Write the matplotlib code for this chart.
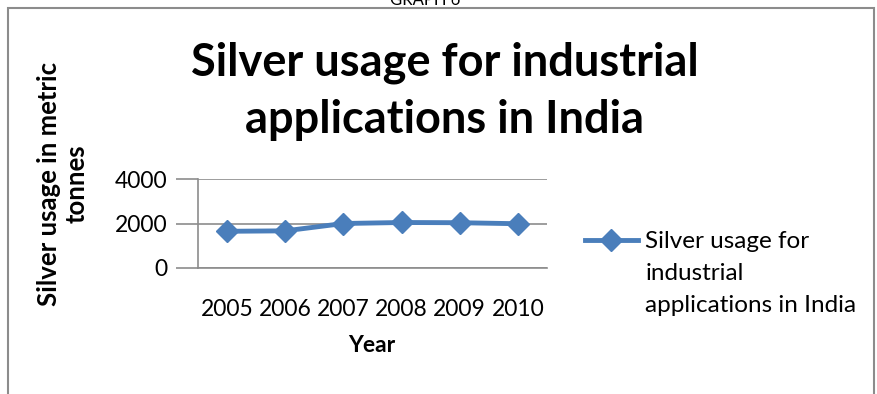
import matplotlib
matplotlib.use("Agg")
import matplotlib.pyplot as plt
from matplotlib.patches import Rectangle

years = ['2005', '2006', '2007', '2008', '2009', '2010']
usage = [1650, 1670, 2000, 2045, 2035, 1990]

plt.rcParams['font.family'] = ['Lato', 'DejaVu Sans']

fig = plt.figure(figsize=(8.77, 3.94), dpi=100)
# outer chart frame
fig.patches.append(Rectangle((8 / 877, -0.1), 866 / 877, 1.1 - 8 / 394, transform=fig.transFigure,
                             fill=False, edgecolor='#8c8c8c', linewidth=1.5))
fig.text(0.485, 1.0, 'GRAPH 6', ha='center', va='center', fontsize=12)

ax = fig.add_axes([198 / 877, 1 - 268 / 394, (547 - 198) / 877, (268 - 179) / 394])
x = range(len(years))
ax.plot(x, usage, color='#4a7ebb', linewidth=3.5, marker='D', markersize=11,
        label='Silver usage for\nindustrial\napplications in India')
ax.set_xlim(-0.5, len(years) - 0.5)
ax.set_ylim(0, 4000)
ax.set_yticks([0, 2000, 4000])
ax.set_xticks(list(x))
ax.set_xticklabels(years)
ax.grid(axis='y', color='#8c8c8c', linewidth=1.2)
ax.set_axisbelow(True)
for s in ['top', 'right']:
    ax.spines[s].set_visible(False)
ax.spines['left'].set_color('#8c8c8c')
ax.spines['bottom'].set_color('#8c8c8c')
ax.spines['left'].set_linewidth(1.2)
ax.spines['bottom'].set_linewidth(1.2)
ax.tick_params(axis='y', length=16, color='#8c8c8c', width=1.2, labelsize=16.5, pad=6)
ax.tick_params(axis='x', length=0, labelsize=16.5, pad=22)

fig.text(0.507, 1 - 91 / 394, 'Silver usage for industrial\napplications in India', ha='center', va='center',
         fontsize=32.5, fontweight='bold', linespacing=1.45)
fig.text(372 / 877, 1 - 346 / 394, 'Year', ha='center', va='center', fontsize=16.5, fontweight='bold')
fig.text(63 / 877, 1 - 184 / 394, 'Silver usage in metric\ntonnes', ha='center', va='center',
         rotation=90, fontsize=18.5, fontweight='bold', linespacing=1.2)

leg = ax.legend(loc='upper left', bbox_to_anchor=(1.073, 0.55), frameon=False, fontsize=17.5,
                handlelength=2.2, handletextpad=0.3, labelspacing=0.2, borderpad=0)
for t in leg.get_texts():
    t.set_linespacing(1.65)
# put the legend marker next to the first text line
for col in leg._legend_handle_box.get_children():
    for item in col.get_children():
        item.align = 'top'

fig.savefig('out.png', dpi=100)
